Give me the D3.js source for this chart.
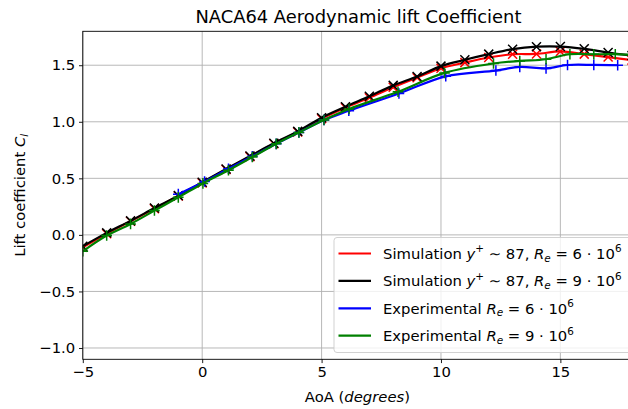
<!DOCTYPE html>
<html>
<head>
<meta charset="utf-8">
<script src="https://cdn.jsdelivr.net/npm/d3@7"></script>
<style>
  body { margin: 0; background: #fff; }
  text { font-family: "DejaVu Sans", sans-serif; fill: #000; }
</style>
</head>
<body>
<div id="chart"></div>
<script>
// angle of attack (deg) and lift coefficient
const aoaSim = [-5, -4, -3, -2, -1, 0, 1, 2, 3, 4, 5, 6, 7, 8, 9, 10, 11, 12, 13, 14, 15, 16, 17, 18];
const clSim6 = [-0.11, 0.01, 0.12, 0.232, 0.343, 0.46, 0.578, 0.692, 0.805, 0.91, 1.028, 1.125, 1.212, 1.305, 1.39, 1.473, 1.523, 1.568, 1.597, 1.6, 1.622, 1.598, 1.572, 1.545];
const clSim9 = [-0.1, 0.018, 0.124, 0.237, 0.347, 0.466, 0.583, 0.697, 0.81, 0.915, 1.036, 1.133, 1.225, 1.322, 1.4, 1.492, 1.548, 1.598, 1.642, 1.664, 1.665, 1.645, 1.612, 1.585];

const aoaExp6 = [-1, 0.1, 1.1, 2.1, 3.1, 4.05, 5.1, 6.14, 8.24, 10.2, 12.3, 13.3, 14.4, 15.3, 16.4, 17.4];
const clExp6 = [0.36, 0.472, 0.585, 0.695, 0.805, 0.905, 1.016, 1.097, 1.25, 1.402, 1.453, 1.485, 1.472, 1.502, 1.503, 1.5];
const aoaExp9 = [-5, -4, -3, -2, -1, 0.03, 1.1, 2.1, 3.1, 4.05, 5.1, 6.15, 8.2, 10.15, 12.2, 13.3, 14.4, 15.4, 16.4, 17.3, 18.3];
const clExp9 = [-0.145, -0.006, 0.097, 0.215, 0.332, 0.455, 0.572, 0.688, 0.805, 0.906, 1.016, 1.113, 1.265, 1.432, 1.515, 1.538, 1.553, 1.597, 1.597, 1.597, 1.59];

const xTicks = [-5, 0, 5, 10, 15];
const yTicks = [-1.0, -0.5, 0.0, 0.5, 1.0, 1.5];

const width = 628, height = 409;
const margin = { top: 31.3, left: 82.8 };
const plotRight = 632, plotBottom = 359.3;
const fs = 14.8, fsSmall = 10.4;

const svg = d3.select("#chart").append("svg")
  .attr("width", width)
  .attr("height", height);

const x = d3.scaleLinear().domain([-5, 18]).range([margin.left, plotRight]);
const y = d3.scaleLinear().domain([-1.1, 1.8]).range([plotBottom, margin.top]);

svg.append("clipPath").attr("id", "plotclip")
  .append("rect")
  .attr("x", margin.left).attr("y", margin.top)
  .attr("width", plotRight - margin.left).attr("height", plotBottom - margin.top);

// grid
const grid = svg.append("g").attr("stroke", "#b0b0b0").attr("stroke-width", 0.9);
grid.selectAll(".gx").data(xTicks).join("line")
  .attr("x1", d => x(d)).attr("x2", d => x(d))
  .attr("y1", margin.top).attr("y2", plotBottom);
grid.selectAll(".gy").data(yTicks).join("line")
  .attr("x1", margin.left).attr("x2", plotRight)
  .attr("y1", d => y(d)).attr("y2", d => y(d));

// axes
const xAxis = d3.axisBottom(x).tickValues(xTicks).tickSize(3.8).tickPadding(3.8).tickSizeOuter(0)
  .tickFormat(d => d < 0 ? "\u2212" + Math.abs(d) : d);
const yAxis = d3.axisLeft(y).tickValues(yTicks).tickSize(3.8).tickPadding(3.8).tickSizeOuter(0)
  .tickFormat(d => (d < 0 ? "\u2212" : "") + Math.abs(d).toFixed(1));

const gx = svg.append("g").attr("transform", `translate(0,${plotBottom})`).call(xAxis);
const gy = svg.append("g").attr("transform", `translate(${margin.left},0)`).call(yAxis);
[gx, gy].forEach(g => {
  g.select(".domain").remove();
  g.selectAll("line").attr("stroke", "#000").attr("stroke-width", 0.9);
  g.selectAll("text").attr("font-size", fs).attr("font-family", "DejaVu Sans").attr("fill", "#000");
});

// series
const series = [
  { name: "sim6", xs: aoaSim, ys: clSim6, color: "#ff0000", marker: "x" },
  { name: "sim9", xs: aoaSim, ys: clSim9, color: "#000000", marker: "x" },
  { name: "exp6", xs: aoaExp6, ys: clExp6, color: "#0000ff", marker: "+" },
  { name: "exp9", xs: aoaExp9, ys: clExp9, color: "#008000", marker: "+" }
];

const line = d3.line()
  .x(d => x(d[0]))
  .y(d => y(d[1]))
  .curve(d3.curveCatmullRom.alpha(0.5));

const plot = svg.append("g").attr("clip-path", "url(#plotclip)");
const m = 4.5;
series.forEach(s => {
  const pts = s.xs.map((a, i) => [a, s.ys[i]]);
  plot.append("path")
    .datum(pts)
    .attr("fill", "none")
    .attr("stroke", s.color)
    .attr("stroke-width", 2.2)
    .attr("d", line);
  plot.append("g").selectAll("path").data(pts).join("path")
    .attr("fill", "none")
    .attr("stroke", s.color)
    .attr("stroke-width", 1.5)
    .attr("d", d => {
      const cx = x(d[0]), cy = y(d[1]);
      return s.marker === "x"
        ? `M${cx - m},${cy - m}L${cx + m},${cy + m}M${cx - m},${cy + m}L${cx + m},${cy - m}`
        : `M${cx - m - 0.8},${cy}L${cx + m + 0.8},${cy}M${cx},${cy - m - 0.8}L${cx},${cy + m + 0.8}`;
    });
});

// spines
svg.append("rect")
  .attr("x", margin.left).attr("y", margin.top)
  .attr("width", plotRight - margin.left).attr("height", plotBottom - margin.top)
  .attr("fill", "none").attr("stroke", "#000").attr("stroke-width", 0.9);

// title and labels
svg.append("text")
  .attr("x", (margin.left + plotRight) / 2 + 1).attr("y", 23)
  .attr("text-anchor", "middle").attr("font-size", 17.9)
  .text("NACA64 Aerodynamic lift Coefficient");

const xl = svg.append("text")
  .attr("x", (margin.left + plotRight) / 2).attr("y", 402)
  .attr("text-anchor", "middle").attr("font-size", fs);
xl.append("tspan").text("AoA (");
xl.append("tspan").attr("font-style", "italic").text("degrees");
xl.append("tspan").text(")");

const yl = svg.append("text")
  .attr("transform", `translate(25,${(margin.top + plotBottom) / 2}) rotate(-90)`)
  .attr("text-anchor", "middle").attr("font-size", fs);
yl.append("tspan").text("Lift coefficient ");
yl.append("tspan").attr("font-style", "italic").text("C");
yl.append("tspan").attr("font-style", "italic").attr("font-size", fsSmall).attr("dy", 2.7).text("l");

// legend
const legendLabels = [
  { pre: "Simulation ", sup: true, re: "6" },
  { pre: "Simulation ", sup: true, re: "9" },
  { pre: "Experimental ", sup: false, re: "6" },
  { pre: "Experimental ", sup: false, re: "9" }
];
const lg = svg.append("g");
lg.append("rect")
  .attr("x", 334).attr("y", 237.5).attr("width", 300).attr("height", 115)
  .attr("rx", 3)
  .attr("fill", "#fff").attr("fill-opacity", 0.8)
  .attr("stroke", "#cccccc").attr("stroke-width", 0.9);
legendLabels.forEach((l, i) => {
  const cy = 253.5 + i * 27.4;
  lg.append("line")
    .attr("x1", 338.5).attr("x2", 371).attr("y1", cy).attr("y2", cy)
    .attr("stroke", series[i].color).attr("stroke-width", 2.2);
  const t = lg.append("text").attr("x", 383).attr("y", cy + 5.3).attr("font-size", fs);
  t.append("tspan").text(l.pre);
  if (l.sup) {
    t.append("tspan").attr("font-style", "italic").text("y");
    t.append("tspan").attr("font-size", fsSmall).attr("dy", -6.5).text("+");
    t.append("tspan").attr("dy", 6.5).text(" \u223C 87, ");
  }
  t.append("tspan").attr("font-style", "italic").text("R");
  t.append("tspan").attr("font-style", "italic").attr("font-size", fsSmall).attr("dy", 2.7).text("e");
  t.append("tspan").attr("dy", -2.7).text(" = " + l.re + " \u00B7 10");
  t.append("tspan").attr("font-size", fsSmall).attr("dy", -6.5).text("6");
});
</script>
</body>
</html>
